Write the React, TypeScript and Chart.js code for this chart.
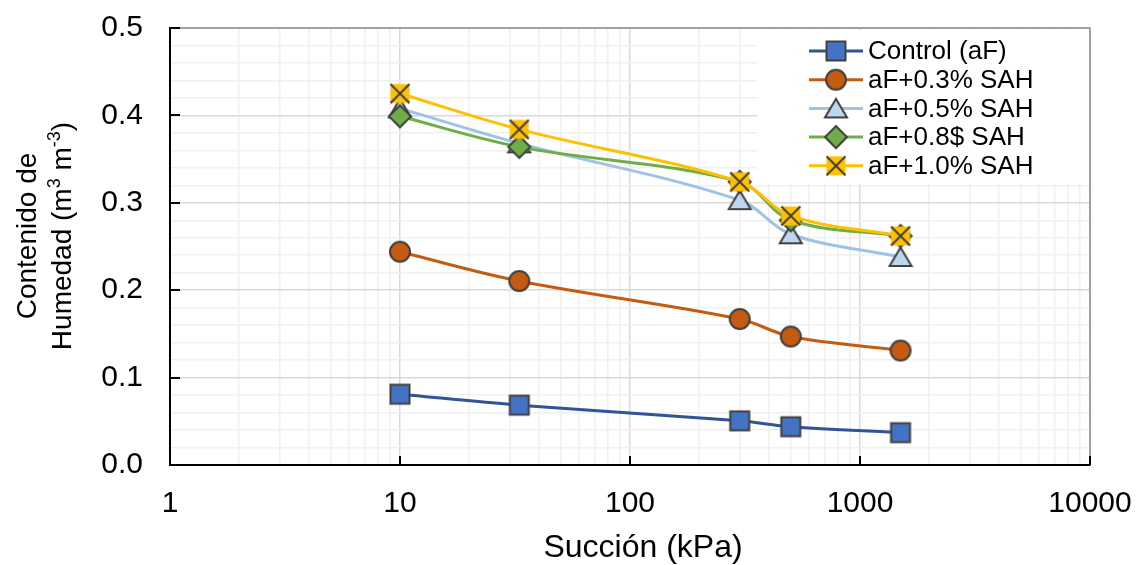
import React, { useEffect, useRef } from 'react';
import { Chart, registerables } from 'chart.js';

Chart.register(...registerables);

// ---------- data ----------
const suction = [10, 33, 300, 500, 1500];
const control = [0.081, 0.0685, 0.0505, 0.0438, 0.037];
const sah03 = [0.244, 0.2105, 0.167, 0.147, 0.131];
const sah05 = [0.408, 0.368, 0.303, 0.264, 0.238];
const sah08 = [0.399, 0.364, 0.324, 0.28, 0.262];
const sah10 = [0.425, 0.384, 0.324, 0.285, 0.262];
const seriesLabels = ['Control (aF)', 'aF+0.3% SAH', 'aF+0.5% SAH', 'aF+0.8$ SAH', 'aF+1.0% SAH'];
const xMajorTicks = [1, 10, 100, 1000, 10000];
const yMajorTicks = [0, 0.1, 0.2, 0.3, 0.4, 0.5];
const xTitle = 'Succión (kPa)';
const yTitleLine1 = 'Contenido de';
// second line, as [text, isSuperscript]
const yTitleLine2: [string, boolean][] = [
  ['Humedad (m', false],
  ['3', true],
  [' m', false],
  ['-3', true],
  [')', false],
];

const FONT = "'Liberation Sans', Arial, sans-serif";
const MARKER_STROKE = '#404040';

type Shape = 'square' | 'circle' | 'triangle' | 'diamond' | 'xsquare';

function makeMarker(shape: Shape, fill: string): HTMLCanvasElement {
  const size = 26;
  const c = document.createElement('canvas');
  c.width = size;
  c.height = size;
  const ctx = c.getContext('2d')!;
  const m = size / 2;
  ctx.lineWidth = 2;
  ctx.strokeStyle = MARKER_STROKE;
  ctx.fillStyle = fill;
  ctx.lineJoin = 'miter';
  if (shape === 'square') {
    ctx.fillRect(m - 9.5, m - 9.5, 19, 19);
    ctx.strokeRect(m - 9.5, m - 9.5, 19, 19);
  } else if (shape === 'circle') {
    ctx.beginPath();
    ctx.arc(m, m, 10, 0, Math.PI * 2);
    ctx.fill();
    ctx.stroke();
  } else if (shape === 'triangle') {
    ctx.beginPath();
    ctx.moveTo(m, m - 9.5);
    ctx.lineTo(m + 11, m + 9);
    ctx.lineTo(m - 11, m + 9);
    ctx.closePath();
    ctx.fill();
    ctx.stroke();
  } else if (shape === 'diamond') {
    ctx.beginPath();
    ctx.moveTo(m, m - 11);
    ctx.lineTo(m + 11, m);
    ctx.lineTo(m, m + 11);
    ctx.lineTo(m - 11, m);
    ctx.closePath();
    ctx.fill();
    ctx.stroke();
  } else {
    ctx.fillRect(m - 9.5, m - 9.5, 19, 19);
    ctx.beginPath();
    ctx.moveTo(m - 9.5, m - 9.5);
    ctx.lineTo(m + 9.5, m + 9.5);
    ctx.moveTo(m + 9.5, m - 9.5);
    ctx.lineTo(m - 9.5, m + 9.5);
    ctx.stroke();
  }
  return c;
}

const lineColors = ['#2F5597', '#C55A11', '#9DC3E6', '#70AD47', '#FFC000'];
const fillColors = ['#4472C4', '#C55A11', '#BDD7EE', '#70AD47', '#FFC000'];
const shapes: Shape[] = ['square', 'circle', 'triangle', 'diamond', 'xsquare'];
const seriesValues = [control, sah03, sah05, sah08, sah10];

function isPow10(v: number) {
  const l = Math.log10(v);
  return Math.abs(l - Math.round(l)) < 1e-9;
}

export default function App() {
  const ref = useRef<HTMLCanvasElement | null>(null);

  useEffect(() => {
    if (!ref.current) return;
    const markers = shapes.map((s, i) => makeMarker(s, fillColors[i]));

    const xTickList: number[] = [];
    for (let e = 0; e < 4; e++) for (let s = 1; s < 10; s++) xTickList.push(s * Math.pow(10, e));
    xTickList.push(10000);
    const yTickList: number[] = [];
    for (let k = 0; k <= 25; k++) yTickList.push(Math.round(k * 2) / 100);

    const frame = {
      id: 'frame',
      beforeDatasetsDraw(chart: any) {
        const { ctx, chartArea: a } = chart;
        ctx.save();
        ctx.strokeStyle = '#8C8C8C';
        ctx.lineWidth = 1.5;
        ctx.beginPath();
        ctx.moveTo(a.left, a.top);
        ctx.lineTo(a.right, a.top);
        ctx.lineTo(a.right, a.bottom);
        ctx.stroke();
        ctx.restore();
      },
      afterDraw(chart: any) {
        const { ctx, chartArea: a, scales } = chart;
        ctx.save();
        // inward ticks
        ctx.strokeStyle = '#000';
        ctx.lineWidth = 2;
        ctx.beginPath();
        yMajorTicks.forEach((v) => {
          const y = Math.round(scales.y.getPixelForValue(v));
          ctx.moveTo(a.left, y);
          ctx.lineTo(a.left + 10, y);
        });
        xMajorTicks.forEach((v) => {
          const x = Math.round(scales.x.getPixelForValue(v));
          ctx.moveTo(x, a.bottom);
          ctx.lineTo(x, a.bottom - 9);
        });
        ctx.stroke();

        // legend
        const lx = 757;
        const ly = 30;
        ctx.fillStyle = '#FFFFFF';
        ctx.fillRect(lx, ly, a.right - lx - 1, 154);
        ctx.font = `26px ${FONT}`;
        ctx.textBaseline = 'middle';
        ctx.textAlign = 'left';
        seriesLabels.forEach((lab, i) => {
          const y = 51 + i * 28.7;
          ctx.strokeStyle = lineColors[i];
          ctx.lineWidth = 3;
          ctx.beginPath();
          ctx.moveTo(809, y);
          ctx.lineTo(863, y);
          ctx.stroke();
          const mk = markers[i];
          ctx.drawImage(mk, 836 - mk.width / 2, y - mk.height / 2);
          ctx.fillStyle = '#000';
          ctx.fillText(lab, 868, y + 1);
        });

        // x title
        ctx.fillStyle = '#000';
        ctx.font = `32px ${FONT}`;
        ctx.textAlign = 'center';
        ctx.textBaseline = 'middle';
        ctx.fillText(xTitle, 643, 548);

        // y title (rotated, two lines)
        const cy = 236;
        ctx.save();
        ctx.translate(28, cy);
        ctx.rotate(-Math.PI / 2);
        ctx.font = `28px ${FONT}`;
        ctx.textAlign = 'center';
        ctx.textBaseline = 'middle';
        ctx.fillText(yTitleLine1, 0, 0);
        ctx.restore();

        ctx.save();
        ctx.translate(63, cy);
        ctx.rotate(-Math.PI / 2);
        ctx.textAlign = 'left';
        ctx.textBaseline = 'middle';
        const normalFont = `28px ${FONT}`;
        const supFont = `18px ${FONT}`;
        let total = 0;
        const widths = yTitleLine2.map(([t, sup]) => {
          ctx.font = sup ? supFont : normalFont;
          const w = ctx.measureText(t).width;
          total += w;
          return w;
        });
        let px = -total / 2;
        yTitleLine2.forEach(([t, sup], i) => {
          ctx.font = sup ? supFont : normalFont;
          ctx.fillText(t, px, sup ? -8 : 0);
          px += widths[i];
        });
        ctx.restore();

        ctx.restore();
      },
    };

    const chart = new Chart(ref.current, {
      type: 'line',
      data: {
        datasets: seriesValues.map((vals, i) => ({
          label: seriesLabels[i],
          data: suction.map((x, j) => ({ x, y: vals[j] })),
          borderColor: lineColors[i],
          backgroundColor: fillColors[i],
          borderWidth: 3,
          tension: 0.35,
          pointStyle: markers[i] as any,
          pointRadius: 10,
          order: 4 - i,
        })),
      },
      options: {
        animation: false,
        responsive: true,
        maintainAspectRatio: false,
        layout: { padding: { left: 0, top: 28, right: 50, bottom: 0 } },
        plugins: { legend: { display: false }, tooltip: { enabled: false } },
        scales: {
          x: {
            type: 'logarithmic',
            min: 1,
            max: 10000,
            afterBuildTicks: (s: any) => {
              s.ticks = xTickList.map((v) => ({ value: v, major: isPow10(v) }));
            },
            afterFit: (s: any) => {
              s.height = 100;
              s.paddingLeft = 0;
              s.paddingRight = 0;
            },
            ticks: {
              autoSkip: false,
              maxRotation: 0,
              padding: 21,
              color: '#000',
              font: { family: FONT, size: 30 },
              callback: (v: any) => (isPow10(Number(v)) ? String(Number(v)) : ''),
            },
            grid: {
              drawTicks: false,
              color: (c: any) => (c.tick && c.tick.major ? '#D9D9D9' : '#F0F0F0'),
              lineWidth: 1.5,
            },
            border: { color: '#000', width: 2 },
            title: { display: false },
          },
          y: {
            type: 'linear',
            min: 0,
            max: 0.5,
            afterBuildTicks: (s: any) => {
              s.ticks = yTickList.map((v) => ({ value: v, major: Math.round(v * 50) % 5 === 0 }));
            },
            afterFit: (s: any) => {
              s.width = 170;
              s.paddingTop = 0;
              s.paddingBottom = 0;
            },
            ticks: {
              autoSkip: false,
              padding: 27,
              color: '#000',
              font: { family: FONT, size: 30 },
              callback: (v: any) => (Math.round(Number(v) * 50) % 5 === 0 ? Number(v).toFixed(1) : ''),
            },
            grid: {
              drawTicks: false,
              color: (c: any) => (c.tick && c.tick.major ? '#D9D9D9' : '#F0F0F0'),
              lineWidth: 1.5,
            },
            border: { color: '#000', width: 2 },
            title: { display: false },
          },
        },
      },
      plugins: [frame],
    });

    return () => chart.destroy();
  }, []);

  return (
    <div style={{ position: 'fixed', left: 0, top: 0, width: 1140, height: 565, background: '#fff' }}>
      <canvas ref={ref} />
    </div>
  );
}
